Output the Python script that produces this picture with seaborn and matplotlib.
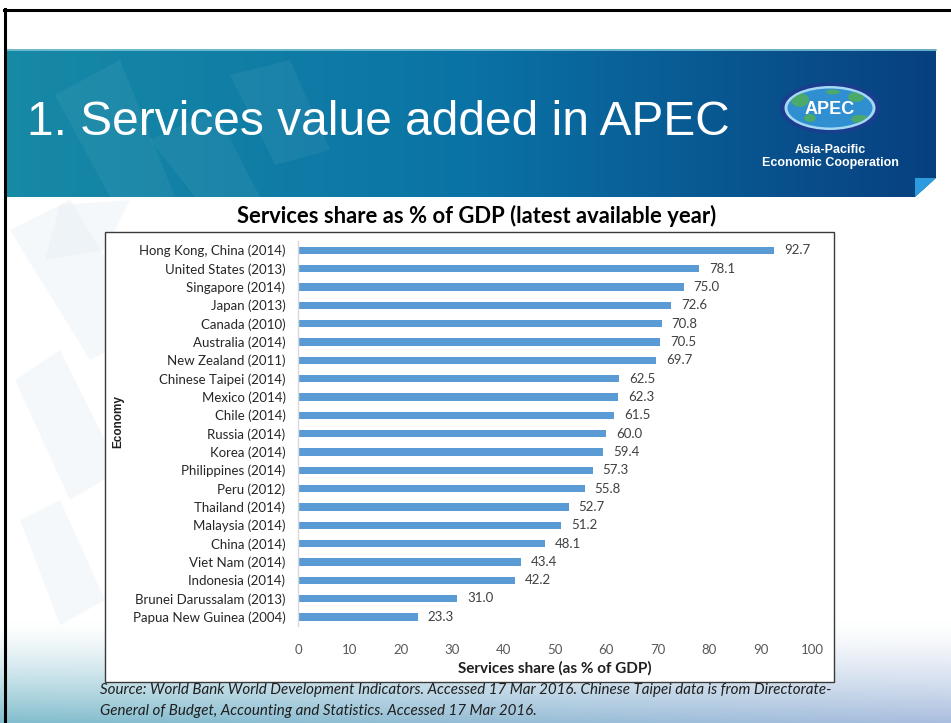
import numpy as np
import matplotlib
matplotlib.use("Agg")
import matplotlib.pyplot as plt
from matplotlib.patches import Rectangle, Polygon, Ellipse
import seaborn as sns

# ---- data -------------------------------------------------------------
economies = [
    "Hong Kong, China (2014)", "United States (2013)", "Singapore (2014)",
    "Japan (2013)", "Canada (2010)", "Australia (2014)", "New Zealand (2011)",
    "Chinese Taipei (2014)", "Mexico (2014)", "Chile (2014)", "Russia (2014)",
    "Korea (2014)", "Philippines (2014)", "Peru (2012)", "Thailand (2014)",
    "Malaysia (2014)", "China (2014)", "Viet Nam (2014)", "Indonesia (2014)",
    "Brunei Darussalam (2013)", "Papua New Guinea (2004)",
]
services_share = [92.7, 78.1, 75.0, 72.6, 70.8, 70.5, 69.7, 62.5, 62.3, 61.5,
                  60.0, 59.4, 57.3, 55.8, 52.7, 51.2, 48.1, 43.4, 42.2, 31.0, 23.3]
x_ticks = [0, 10, 20, 30, 40, 50, 60, 70, 80, 90, 100]

slide_title = "1. Services value added in APEC"
chart_title = "Services share as % of GDP (latest available year)"
x_label = "Services share (as % of GDP)"
y_label = "Economy"
source_lines = [
    "Source: World Bank World Development Indicators. Accessed 17 Mar 2016. Chinese Taipei data is from Directorate-",
    "General of Budget, Accounting and Statistics. Accessed 17 Mar 2016.",
]

W, H = 951, 723
BODY_FONT = "Lato"

fig = plt.figure(figsize=(W / 100, H / 100), dpi=100)

# ---- slide background (pixel coordinates, y downwards) ---------------
bg = fig.add_axes([0, 0, 1, 1])
bg.set_xlim(0, W)
bg.set_ylim(H, 0)
bg.axis("off")

img = np.ones((H, W, 3))
yy = np.arange(H)[:, None, None]
xx = np.arange(W)[None, :, None]
# soft blue wash toward the bottom of the slide
t = np.clip((yy - 620) / (H - 620), 0, 1) ** 1.4
left_c = np.array([0.50, 0.74, 0.80])
right_c = np.array([0.66, 0.74, 0.87])
xf = xx / W
bottom_c = left_c * (1 - xf) + right_c * xf
img = img * (1 - t) + bottom_c * t
bg.imshow(img, extent=(0, W, H, 0), aspect="auto", zorder=0)

# pale decorative tiles on the left side
for pts in [
    [(10, 230), (70, 200), (150, 330), (90, 360)],
    [(15, 380), (60, 350), (120, 470), (70, 500)],
    [(20, 520), (60, 500), (105, 600), (60, 625)],
    [(60, 205), (130, 200), (105, 250), (45, 260)],
]:
    bg.add_patch(Polygon(pts, closed=True, fc="#e3ebf3", ec="none", alpha=0.35, zorder=1))

# header band with horizontal teal-to-navy gradient
hx = np.linspace(0, 1, 400)[None, :, None]
c0 = np.array([0.09, 0.54, 0.65])
c1 = np.array([0.04, 0.45, 0.65])
c2 = np.array([0.03, 0.25, 0.50])
grad = np.where(hx < 0.5, c0 + (c1 - c0) * (hx / 0.5), c1 + (c2 - c1) * ((hx - 0.5) / 0.5))
grad = np.repeat(grad, 2, axis=0)
header_clip = Polygon([(5, 49), (936, 49), (936, 178), (915, 197), (5, 197)], closed=True,
                      fc="none", ec="none", transform=bg.transData)
bg.add_patch(header_clip)
him = bg.imshow(grad, extent=(5, 936, 197, 49), aspect="auto", zorder=2)
him.set_clip_path(header_clip)
bg.plot([5, 936], [49.5, 49.5], color="#7fc3d3", lw=1.2, zorder=3)
# translucent swooshes inside the header
for pts in [
    [(55, 95), (120, 60), (175, 197), (110, 197)],
    [(150, 140), (215, 110), (260, 197), (195, 197)],
    [(230, 75), (290, 60), (330, 150), (275, 165)],
]:
    bg.add_patch(Polygon(pts, closed=True, fc="white", ec="none", alpha=0.05, zorder=3))
# folded corner
bg.add_patch(Polygon([(915, 178), (936, 178), (915, 197)], closed=True,
                     fc="#2d9be0", ec="none", zorder=3))

# slide title
bg.text(27, 135, slide_title, color="white", fontsize=34.5,
        family="Liberation Sans", va="baseline", ha="left", zorder=4)

# APEC emblem
cx, cy = 830, 108
bg.add_patch(Ellipse((cx, cy), 100, 51, fc="#1b3d8f", ec="none", zorder=4))
bg.add_patch(Ellipse((cx, cy), 91, 44, fc="#a5d8f2", ec="none", zorder=4))
globe = Ellipse((cx, cy), 85, 39, fc="#2f8fd0", ec="none", zorder=4)
bg.add_patch(globe)
for (ex, ey, ew, eh) in [(800, 100, 18, 14), (810, 118, 12, 8), (856, 97, 16, 10),
                         (860, 119, 18, 8), (833, 92, 14, 5)]:
    land = Ellipse((ex, ey), ew, eh, fc="#4fae5a", ec="none", alpha=0.85, zorder=5)
    bg.add_patch(land)
    land.set_clip_path(globe)
bg.text(cx, cy + 1, "APEC", color="white", fontsize=13, fontweight="bold",
        family="Liberation Sans", ha="center", va="center", zorder=6)
bg.text(cx, 150, "Asia-Pacific", color="white", fontsize=9.0, fontweight="bold",
        family="Liberation Sans", ha="center", va="center", zorder=6)
bg.text(cx, 163, "Economic Cooperation", color="white", fontsize=9.0, fontweight="bold",
        family="Liberation Sans", ha="center", va="center", zorder=6)

# slide frame (top and left rules)
bg.plot([4, W], [10, 10], color="black", lw=2.2, zorder=7)
bg.plot([5, 5], [9, H], color="black", lw=2.2, zorder=7)

# white chart panel and its caption
bg.add_patch(Rectangle((105, 232), 729, 450, fc="white", ec="#3a3a3a", lw=1.0, zorder=4))
bg.text(477, 216, chart_title, fontsize=15.8, fontweight="bold", family=BODY_FONT,
        color="black", ha="center", va="center", zorder=5)

# source note
for i, line in enumerate(source_lines):
    bg.text(100, 690 + 21 * i, line, fontsize=10.9, style="italic", family=BODY_FONT,
            color="#1f1f1f", ha="left", va="center", zorder=5)

# ---- bar chart ---------------------------------------------------------
ax = fig.add_axes([298 / W, 1 - 626 / H, 514 / W, 385 / H])
ax.patch.set_alpha(0)
sns.barplot(x=services_share, y=economies, orient="h", color="#5b9bd5",
            saturation=1, width=0.4, ax=ax)
ax.bar_label(ax.containers[0], fmt="%.1f", padding=7, fontsize=9.5,
             family=BODY_FONT, color="#404040")

ax.set_xlim(0, 100)
ax.set_ylim(len(economies) - 0.5, -0.5)
ax.set_xticks(x_ticks)
ax.set_xticklabels([str(v) for v in x_ticks], family=BODY_FONT, fontsize=9.5, color="#595959")
ax.set_yticks(range(len(economies)))
ax.set_yticklabels(economies, family=BODY_FONT, fontsize=9.5, color="#262626")
ax.tick_params(axis="both", length=0)
ax.tick_params(axis="x", pad=13)
ax.tick_params(axis="y", pad=9)

for side in ("top", "right", "bottom"):
    ax.spines[side].set_visible(False)
ax.spines["left"].set_color("#d9d9d9")
ax.spines["left"].set_linewidth(1.0)
ax.grid(False)

ax.set_xlabel(x_label, family=BODY_FONT, fontsize=11, fontweight="bold", color="#1f1f1f")
ax.xaxis.set_label_coords(0.5, (626 - 668) / 385)
ax.xaxis.label.set_va("center")
ax.set_ylabel(y_label, family="Liberation Sans", fontsize=8.5, fontweight="bold", color="#1f1f1f")
ax.yaxis.set_label_coords((118 - 298) / 514, (626 - 422) / 385)
ax.yaxis.label.set_va("center")

fig.savefig("out.png", dpi=100)
